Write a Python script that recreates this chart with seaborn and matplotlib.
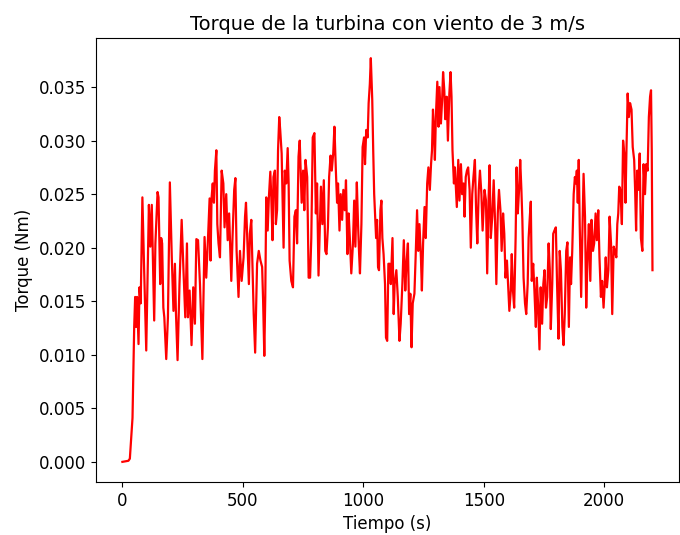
import matplotlib
matplotlib.use("Agg")
import matplotlib.pyplot as plt
import seaborn as sns
import pandas as pd


# Time (s) and torque (Nm)
tiempo = [
    0, 25, 31, 42, 49, 53, 57, 61, 67, 71, 76, 83, 89, 99, 110, 116, 122, 132, 137,
    146, 150, 157, 161, 165, 170, 174, 182, 189, 197, 205, 212, 218, 222, 229,
    237, 246, 253, 261, 268, 272, 279, 287, 294, 301, 307, 314, 322, 332,
    341, 348, 355, 362, 366, 370, 375, 380, 384, 390, 394, 399, 405, 412, 419,
    424, 431, 437, 443, 452, 457, 464, 469, 474, 482, 488, 495, 503, 509, 513,
    520, 525, 529, 535, 541, 545, 551, 559, 566, 573, 580, 584, 589, 593, 597,
    603, 608, 614, 618, 623, 627, 633, 637, 642, 646, 651, 655, 661, 665, 669,
    674, 680, 686, 690, 694, 701, 708, 714, 720, 725, 731, 736,
    744, 750, 755, 760, 767, 773, 779, 784, 790, 797, 803, 808, 814, 820, 824,
    830, 836, 842, 847, 853, 858, 864, 869, 875, 880, 886, 891, 895, 901, 906,
    912, 917, 923, 928, 934, 939, 944, 950, 957, 962, 967, 973, 978, 982, 986,
    992, 997, 1003, 1007, 1012, 1018, 1022, 1027, 1031, 1037, 1041, 1045, 1049,
    1053, 1057, 1061, 1065, 1071, 1075, 1079, 1084, 1090, 1094, 1099, 1104,
    1110, 1114, 1121, 1126, 1130, 1137, 1143, 1150, 1155, 1162, 1168, 1174,
    1179, 1185, 1190, 1195, 1200, 1205, 1212, 1217, 1223, 1228, 1233, 1239,
    1243, 1248, 1254, 1259, 1265, 1270, 1276, 1281, 1285, 1289, 1293, 1297,
    1301, 1307, 1312, 1316, 1322, 1327, 1331, 1336, 1340, 1346, 1351, 1357,
    1362, 1366, 1370, 1376, 1380, 1384, 1388, 1394, 1399, 1405, 1410, 1416,
    1420, 1425, 1430, 1435, 1441, 1446, 1452, 1457, 1463, 1468, 1473, 1479,
    1484, 1490, 1495,
    1503, 1509, 1514, 1520, 1524, 1529, 1535, 1541, 1547, 1552, 1558, 1563,
    1569, 1574, 1580, 1585, 1590, 1596, 1600, 1606, 1612, 1616, 1621, 1626,
    1632, 1636, 1641, 1647, 1651, 1656, 1660, 1665, 1671, 1676, 1682, 1686,
    1691, 1695, 1699, 1705, 1710, 1716, 1720, 1725, 1731, 1736, 1742, 1747,
    1752, 1758, 1763, 1769, 1774, 1778, 1784, 1788, 1793, 1799, 1804, 1810,
    1815, 1820, 1826, 1831, 1836, 1842, 1847, 1853, 1858, 1862, 1867, 1873,
    1878, 1882,
    1886, 1890, 1894, 1898, 1904, 1909, 1914, 1920, 1925, 1931, 1936, 1942,
    1947, 1953, 1958, 1964, 1969, 1975, 1980, 1986, 1991, 1997, 2002, 2006,
    2011, 2017, 2022, 2028, 2033, 2039, 2044, 2050, 2054, 2058, 2062, 2067,
    2073, 2078, 2084, 2088, 2092, 2097, 2102, 2107, 2113, 2118, 2124, 2128,
    2132, 2137, 2141, 2147, 2152, 2158, 2163, 2169, 2174, 2180, 2185, 2190,
    2194, 2197, 2200,
]

torque = [
    0.0000, 0.0001, 0.0003, 0.0041, 0.0126, 0.0154, 0.0126, 0.0154, 0.0110, 0.0163,
    0.0148, 0.0247, 0.0191, 0.0104, 0.0240, 0.0201, 0.0240, 0.0132, 0.0204,
    0.0252, 0.0247, 0.0166, 0.0209, 0.0204, 0.0144, 0.0135, 0.0096, 0.0135,
    0.0261, 0.0191, 0.0141, 0.0185, 0.0141, 0.0095, 0.0166, 0.0226, 0.0182,
    0.0135, 0.0204, 0.0135, 0.0160, 0.0109, 0.0163, 0.0129, 0.0208, 0.0207,
    0.0166, 0.0096,
    0.0210, 0.0172, 0.0207, 0.0246, 0.0188, 0.0246, 0.0260, 0.0242, 0.0272,
    0.0291, 0.0222, 0.0204, 0.0191, 0.0272, 0.0260, 0.0219, 0.0250, 0.0207,
    0.0232, 0.0169, 0.0209, 0.0254, 0.0265, 0.0197, 0.0154, 0.0197, 0.0169,
    0.0191, 0.0229, 0.0242, 0.0197, 0.0166, 0.0213, 0.0226, 0.0172, 0.0138,
    0.0102, 0.0185, 0.0197, 0.0188, 0.0182, 0.0151, 0.0099, 0.0154, 0.0247,
    0.0216, 0.0247, 0.0271, 0.0247, 0.0207, 0.0266, 0.0272, 0.0222, 0.0235,
    0.0291, 0.0322, 0.0310, 0.0288, 0.0242, 0.0200, 0.0272, 0.0260, 0.0293,
    0.0260, 0.0188, 0.0169, 0.0163, 0.0229, 0.0235, 0.0204, 0.0285, 0.0300,
    0.0242, 0.0272, 0.0235, 0.0282, 0.0266, 0.0172, 0.0172, 0.0209, 0.0303,
    0.0307, 0.0232, 0.0260, 0.0174, 0.0226, 0.0257, 0.0222, 0.0263, 0.0197,
    0.0194, 0.0219, 0.0266, 0.0286, 0.0272, 0.0288, 0.0313, 0.0272, 0.0242,
    0.0260, 0.0216, 0.0250, 0.0226, 0.0254, 0.0235, 0.0263, 0.0194, 0.0232,
    0.0209, 0.0176, 0.0204, 0.0244, 0.0201, 0.0261, 0.0222, 0.0197, 0.0176,
    0.0222, 0.0294, 0.0303, 0.0278, 0.0310, 0.0303, 0.0335, 0.0353, 0.0377,
    0.0338, 0.0291, 0.0250, 0.0229, 0.0209, 0.0226, 0.0182, 0.0179, 0.0235,
    0.0244, 0.0209, 0.0194, 0.0166, 0.0116, 0.0113, 0.0185,
    0.0185, 0.0166, 0.0209, 0.0138, 0.0166, 0.0179, 0.0154, 0.0113, 0.0129,
    0.0166, 0.0207, 0.0160, 0.0185, 0.0204, 0.0138, 0.0157, 0.0107, 0.0148,
    0.0157, 0.0191, 0.0235, 0.0197, 0.0222, 0.0191, 0.0160, 0.0204, 0.0238,
    0.0209, 0.0260, 0.0275, 0.0254, 0.0278, 0.0291, 0.0329, 0.0310, 0.0282,
    0.0322, 0.0355, 0.0313, 0.0350, 0.0316, 0.0338, 0.0364, 0.0347, 0.0320,
    0.0341, 0.0300, 0.0344, 0.0364, 0.0341, 0.0291, 0.0260, 0.0275, 0.0257,
    0.0238, 0.0282, 0.0244, 0.0278, 0.0250, 0.0260, 0.0229, 0.0266, 0.0272,
    0.0275, 0.0254, 0.0200, 0.0250, 0.0266, 0.0282, 0.0235, 0.0204, 0.0254,
    0.0272, 0.0250, 0.0216,
    0.0254, 0.0244, 0.0176, 0.0247, 0.0277, 0.0209, 0.0229, 0.0263, 0.0222,
    0.0166, 0.0232, 0.0254, 0.0235, 0.0197, 0.0232, 0.0213, 0.0172, 0.0188,
    0.0169, 0.0141, 0.0160, 0.0194, 0.0160, 0.0144, 0.0209, 0.0275, 0.0232,
    0.0257, 0.0282, 0.0254, 0.0226, 0.0172, 0.0148, 0.0138, 0.0166, 0.0209,
    0.0229, 0.0243, 0.0169, 0.0185, 0.0160, 0.0126, 0.0172, 0.0148, 0.0105,
    0.0163, 0.0129, 0.0166, 0.0179, 0.0144, 0.0154, 0.0204, 0.0179, 0.0124,
    0.0166, 0.0213, 0.0216, 0.0219, 0.0166, 0.0115, 0.0197, 0.0179, 0.0126,
    0.0109, 0.0138, 0.0197, 0.0205, 0.0126, 0.0191, 0.0166, 0.0197, 0.0250,
    0.0266, 0.0260,
    0.0272, 0.0242, 0.0282, 0.0222, 0.0154, 0.0209, 0.0269, 0.0229, 0.0144,
    0.0194, 0.0222, 0.0169, 0.0226, 0.0197, 0.0204, 0.0232, 0.0207, 0.0235,
    0.0191, 0.0154, 0.0169, 0.0144, 0.0166, 0.0191, 0.0163, 0.0179, 0.0229,
    0.0204, 0.0138, 0.0201, 0.0197, 0.0191, 0.0222, 0.0232, 0.0257, 0.0254,
    0.0222, 0.0300, 0.0285, 0.0242, 0.0291, 0.0344, 0.0322, 0.0335, 0.0329,
    0.0294, 0.0282, 0.0254, 0.0216, 0.0272, 0.0254, 0.0288, 0.0209, 0.0197,
    0.0278, 0.0250, 0.0278, 0.0272, 0.0322, 0.0341, 0.0347, 0.0291, 0.0179,
]

df = pd.DataFrame({"Tiempo": tiempo, "Torque": torque})


# Plot the torque curve
fig, ax = plt.subplots(figsize=(6.8, 5.35), dpi=100)
fig.subplots_adjust(left=0.141, right=0.9985, top=0.929, bottom=0.099)

sns.lineplot(
    data=df,
    x="Tiempo",
    y="Torque",
    color="red",
    linewidth=1.6,
    estimator=None,
    ax=ax
)

ax.set_title("Torque de la turbina con viento de 3 m/s", fontsize=14)
ax.set_xlabel("Tiempo (s)", fontsize=12)
ax.set_ylabel("Torque (Nm)", fontsize=12)
ax.tick_params(labelsize=12)
ax.set_xticks([0, 500, 1000, 1500, 2000])
ax.set_yticks([0.0, 0.005, 0.010, 0.015, 0.020, 0.025, 0.030, 0.035])
ax.yaxis.set_major_formatter(matplotlib.ticker.FormatStrFormatter("%.3f"))

plt.savefig("out.png")
